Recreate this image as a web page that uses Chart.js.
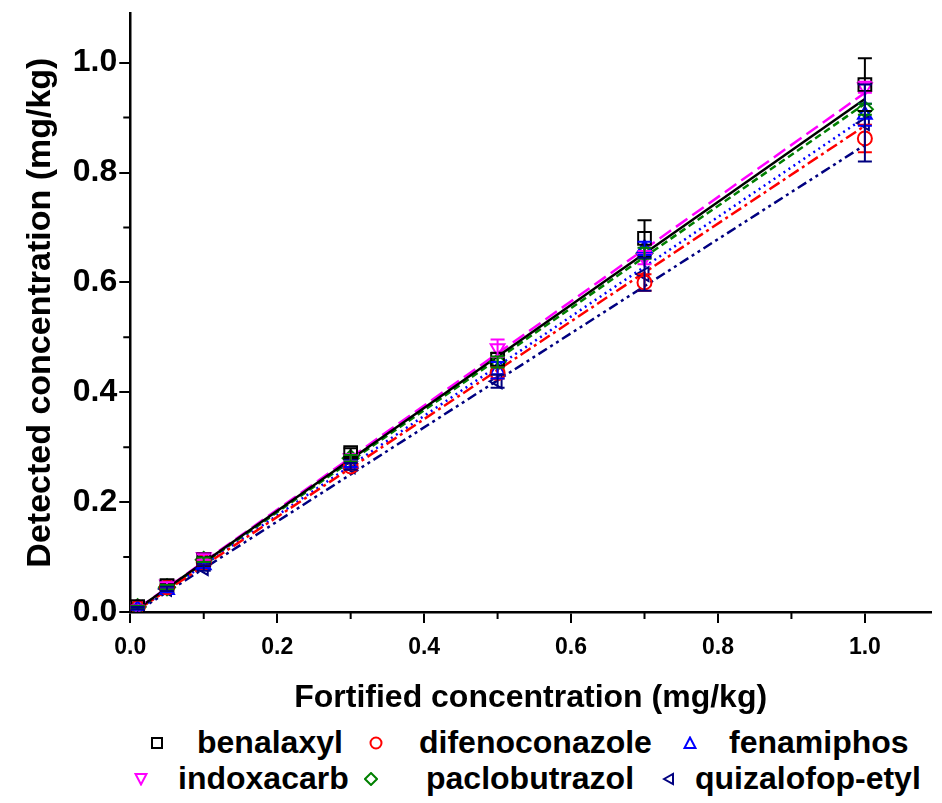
<!DOCTYPE html>
<html>
<head>
<meta charset="utf-8">
<script src="https://cdn.jsdelivr.net/npm/chart.js@4.4.0/dist/chart.umd.min.js"></script>
<style>
  body { margin: 0; background: #fff; }
  #wrap { position: relative; width: 942px; height: 803px; }
  #chartBox { position: absolute; left: 0; top: 0; width: 942px; height: 717px; }
  #legend { position: absolute; left: 0; top: 722px; width: 942px; height: 80px;
            font: bold 32px "Liberation Sans", Arial, sans-serif; color: #000; }
  .mark { position: absolute; width: 14px; height: 14px; line-height: 0; }
  .mark svg { display: block; }
  .label { position: absolute; white-space: nowrap; line-height: 36px; }
</style>
</head>
<body>
<div id="wrap">
  <div id="chartBox"><canvas id="recoveryChart"></canvas></div>
  <div id="legend"></div>
</div>
<script>
// fortified levels (mg/kg)
const fortified = [0.01, 0.05, 0.1, 0.3, 0.5, 0.7, 1.0];

// detected concentration (mg/kg), mean values
const benalaxyl      = [0.010, 0.048, 0.095, 0.290, 0.460, 0.680, 0.960];
const difenoconazole = [0.008, 0.045, 0.090, 0.265, 0.435, 0.600, 0.862];
const fenamiphos     = [0.006, 0.040, 0.085, 0.270, 0.440, 0.662, 0.905];
const indoxacarb     = [0.010, 0.050, 0.100, 0.280, 0.480, 0.645, 0.955];
const paclobutrazol  = [0.009, 0.045, 0.095, 0.280, 0.455, 0.653, 0.915];
const quizalofop     = [0.007, 0.042, 0.080, 0.265, 0.420, 0.615, 0.890];

// standard deviations
const benalaxylErr      = [0.002, 0.004, 0.005, 0.008, 0.012, 0.033, 0.048];
const difenoconazoleErr = [0.002, 0.003, 0.005, 0.006, 0.010, 0.015, 0.025];
const fenamiphosErr     = [0.002, 0.004, 0.005, 0.006, 0.015, 0.012, 0.020];
const indoxacarbErr     = [0.002, 0.004, 0.005, 0.006, 0.016, 0.012, 0.010];
const paclobutrazolErr  = [0.002, 0.004, 0.004, 0.006, 0.010, 0.010, 0.010];
const quizalofopErr     = [0.002, 0.004, 0.005, 0.006, 0.012, 0.030, 0.070];

// linear fit lines, value at first and last fortified level
const fitX = [0.01, 1.0];
const benalaxylFit      = [0.006, 0.934];
const difenoconazoleFit = [0.004, 0.885];
const fenamiphosFit     = [0.004, 0.900];
const indoxacarbFit     = [0.006, 0.945];
const paclobutrazolFit  = [0.005, 0.925];
const quizalofopFit     = [0.002, 0.850];

const names = ['benalaxyl', 'difenoconazole', 'fenamiphos', 'indoxacarb', 'paclobutrazol', 'quizalofop-etyl'];
const means = [benalaxyl, difenoconazole, fenamiphos, indoxacarb, paclobutrazol, quizalofop];
const errs = [benalaxylErr, difenoconazoleErr, fenamiphosErr, indoxacarbErr, paclobutrazolErr, quizalofopErr];
const fits = [benalaxylFit, difenoconazoleFit, fenamiphosFit, indoxacarbFit, paclobutrazolFit, quizalofopFit];

const colors = ['#000000', '#ff0000', '#0000ff', '#ff00ff', '#008000', '#000080'];
const shapes = ['rect', 'circle', 'triangle', 'triangle', 'rectRot', 'triangle'];
const rotations = [0, 0, 0, 180, 0, -90];
const radii = [9, 7, 8, 8, 8, 8];
const dashes = [[], [12, 4, 3, 4], [2, 4], [14, 6], [7, 4], [10, 4, 3, 4, 3, 4]];

const FONT = '"Liberation Sans", Arial, sans-serif';

const datasets = [];
names.forEach((n, i) => {
    datasets.push({
        label: n + ' fit',
        type: 'line',
        data: fitX.map((x, k) => ({ x: x, y: fits[i][k] })),
        borderColor: colors[i],
        borderWidth: 2.5,
        borderDash: dashes[i],
        pointRadius: 0,
        fill: false,
        order: 2
    });
});
names.forEach((n, i) => {
    datasets.push({
        label: n,
        data: fortified.map((x, k) => ({ x: x, y: means[i][k] })),
        errors: errs[i],
        showLine: false,
        pointStyle: shapes[i],
        rotation: rotations[i],
        pointRadius: radii[i],
        pointBorderWidth: 2,
        borderColor: colors[i],
        backgroundColor: 'rgba(0,0,0,0)',
        order: 1
    });
});

// vertical error bars with caps
const errorBars = {
    id: 'errorBars',
    afterDatasetsDraw(chart) {
        const ctx = chart.ctx, xs = chart.scales.x, ys = chart.scales.y;
        ctx.save();
        chart.data.datasets.forEach(ds => {
            if (!ds.errors) return;
            ctx.strokeStyle = ds.borderColor;
            ctx.lineWidth = 2;
            ds.data.forEach((p, k) => {
                const e = ds.errors[k];
                const px = xs.getPixelForValue(p.x);
                const top = ys.getPixelForValue(p.y + e);
                const bot = ys.getPixelForValue(p.y - e);
                ctx.beginPath();
                ctx.moveTo(px, top); ctx.lineTo(px, bot);
                ctx.moveTo(px - 7, top); ctx.lineTo(px + 7, top);
                ctx.moveTo(px - 7, bot); ctx.lineTo(px + 7, bot);
                ctx.stroke();
            });
        });
        ctx.restore();
    }
};

// shorter minor ticks between the labelled ones
const minorTicks = {
    id: 'minorTicks',
    afterDraw(chart) {
        const ctx = chart.ctx, xs = chart.scales.x, ys = chart.scales.y;
        const area = chart.chartArea;
        ctx.save();
        ctx.strokeStyle = '#000';
        ctx.lineWidth = 2;
        ctx.beginPath();
        [0.1, 0.3, 0.5, 0.7, 0.9].forEach(v => {
            const px = xs.getPixelForValue(v);
            ctx.moveTo(px, area.bottom); ctx.lineTo(px, area.bottom + 7);
            const py = ys.getPixelForValue(v);
            ctx.moveTo(area.left, py); ctx.lineTo(area.left - 7, py);
        });
        ctx.stroke();
        ctx.restore();
    }
};

new Chart(document.getElementById('recoveryChart'), {
    type: 'scatter',
    data: { datasets: datasets },
    options: {
        responsive: true,
        maintainAspectRatio: false,
        animation: false,
        layout: { padding: { left: 16, right: 5, top: 12, bottom: 0 } },
        plugins: { legend: { display: false }, tooltip: { enabled: false } },
        scales: {
            x: {
                type: 'linear', min: 0, max: 1.09,
                border: { color: '#000', width: 2.5 },
                grid: { drawOnChartArea: false, drawTicks: true, tickLength: 11, color: '#000', lineWidth: 2 },
                ticks: {
                    stepSize: 0.2, includeBounds: false, padding: 11, color: '#000',
                    font: { family: FONT, size: 23, weight: 'bold' },
                    callback: v => v.toFixed(1)
                },
                title: {
                    display: true, text: 'Fortified concentration (mg/kg)', color: '#000',
                    font: { family: FONT, size: 32, weight: 'bold' },
                    padding: { top: 6, bottom: 0 }
                }
            },
            y: {
                type: 'linear', min: 0, max: 1.09,
                border: { color: '#000', width: 2.5 },
                grid: { drawOnChartArea: false, drawTicks: true, tickLength: 11, color: '#000', lineWidth: 2 },
                ticks: {
                    stepSize: 0.2, includeBounds: false, padding: 2, color: '#000',
                    font: { family: FONT, size: 32, weight: 'bold', lineHeight: 0.7 },
                    callback: v => v.toFixed(1)
                },
                title: {
                    display: true, text: 'Detected concentration (mg/kg)', color: '#000',
                    font: { family: FONT, size: 34, weight: 'bold' },
                    padding: { top: 4, bottom: 10 }
                }
            }
        }
    },
    plugins: [errorBars, minorTicks]
});

// legend, two rows below the plot
function markerSvg(i) {
    const c = colors[i];
    const shapesSvg = [
        `<rect x="2" y="2" width="10" height="10" fill="none" stroke="${c}" stroke-width="2"/>`,
        `<circle cx="7" cy="7" r="5.5" fill="none" stroke="${c}" stroke-width="2"/>`,
        `<polygon points="7,1.5 12.5,12 1.5,12" fill="none" stroke="${c}" stroke-width="2"/>`,
        `<polygon points="1.5,2 12.5,2 7,12.5" fill="none" stroke="${c}" stroke-width="2"/>`,
        `<polygon points="7,1 13,7 7,13 1,7" fill="none" stroke="${c}" stroke-width="2"/>`,
        `<polygon points="2,7 11,2 11,12" fill="none" stroke="${c}" stroke-width="2"/>`
    ];
    return `<svg width="14" height="14" viewBox="0 0 14 14">${shapesSvg[i]}</svg>`;
}
const markLeft = [150, 369, 683, 134, 364, 662];
const textLeft = [197, 419, 729, 178, 426, 695];
const rowTop = [2, 2, 2, 38, 38, 38];
const legend = document.getElementById('legend');
names.forEach((n, i) => {
    const m = document.createElement('div');
    m.className = 'mark';
    m.style.left = markLeft[i] + 'px';
    m.style.top = (rowTop[i] + 12) + 'px';
    m.innerHTML = markerSvg(i);
    legend.appendChild(m);
    const t = document.createElement('div');
    t.className = 'label';
    t.style.left = textLeft[i] + 'px';
    t.style.top = rowTop[i] + 'px';
    t.textContent = n;
    legend.appendChild(t);
});
</script>
</body>
</html>
